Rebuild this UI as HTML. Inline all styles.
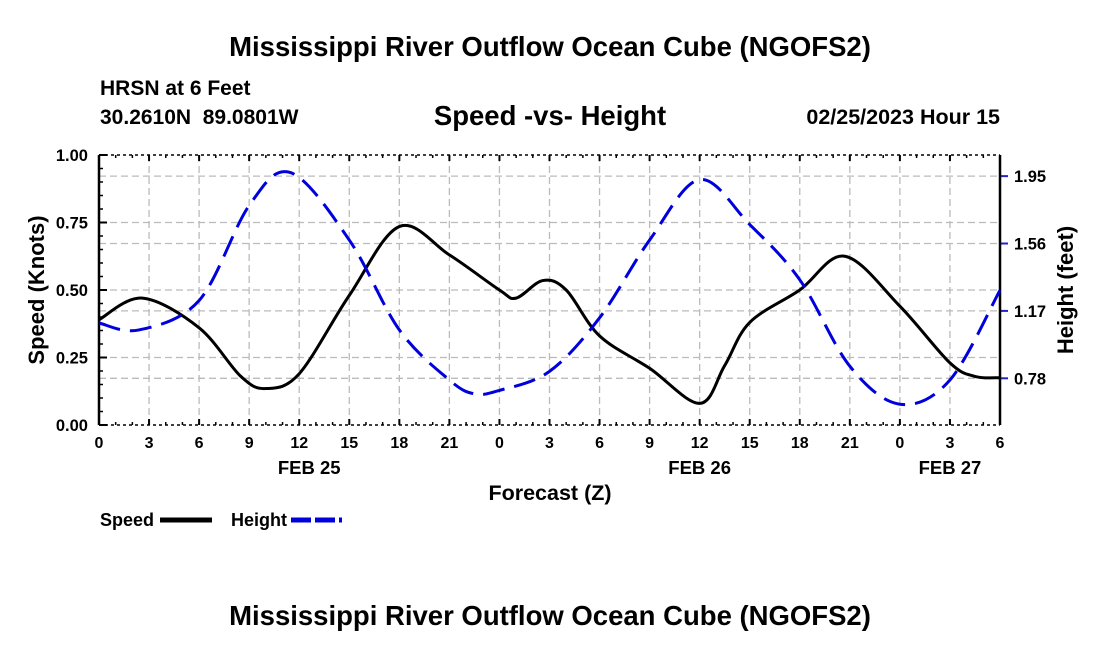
<!DOCTYPE html>
<html><head><meta charset="utf-8"><style>
body{margin:0;background:#fff;}
svg text{font-family:"Liberation Sans",Arial,sans-serif;font-weight:bold;fill:#000;}
</style></head><body>
<svg id="chart" width="1100" height="650" viewBox="0 0 1100 650" xmlns="http://www.w3.org/2000/svg">
<rect width="1100" height="650" fill="#fff"/>
<text x="550" y="56" font-size="27.5" text-anchor="middle">Mississippi River Outflow Ocean Cube (NGOFS2)</text>
<text x="100" y="95" font-size="21">HRSN at 6 Feet</text>
<text x="100" y="124" font-size="21" xml:space="preserve">30.2610N  89.0801W</text>
<text x="550" y="125" font-size="27.5" text-anchor="middle">Speed -vs- Height</text>
<text x="1000" y="124" font-size="21.5" text-anchor="end">02/25/2023 Hour 15</text>
<g id="grid"></g>
<g id="axes"></g>
<g id="series"></g>
<text transform="translate(44,290) rotate(-90)" font-size="22" text-anchor="middle">Speed (Knots)</text>
<text transform="translate(1073,290) rotate(-90)" font-size="22" text-anchor="middle">Height (feet)</text>
<text x="550" y="500" font-size="21.5" text-anchor="middle">Forecast (Z)</text>
<g>
<text x="100" y="526" font-size="18">Speed</text>
<line x1="160" y1="520" x2="212" y2="520" stroke="#000" stroke-width="5"/>
<text x="231" y="526" font-size="18">Height</text>
<line x1="291" y1="520" x2="342" y2="520" stroke="#0000dd" stroke-width="5" stroke-dasharray="20,4"/>
</g>
<text x="550" y="625" font-size="27.5" text-anchor="middle">Mississippi River Outflow Ocean Cube (NGOFS2)</text>
</svg>
<script>
const xTickLabels = ["0","3","6","9","12","15","18","21","0","3","6","9","12","15","18","21","0","3","6"];
const dateLabels = ["FEB 25","FEB 26","FEB 27"];
const dateHours = [12.6,36,51];
const speedTicks = [0,0.25,0.5,0.75,1.0];
const heightTicks = [0.78,1.17,1.56,1.95];
const speedHours = [0,2.6,6,8.5,10,12,15,18,21,24,25,26.6,28,30,33,36,37.5,39,42,44.7,48,51,52.5,54];
const speedValues = [0.39,0.47,0.36,0.18,0.135,0.19,0.48,0.735,0.63,0.50,0.47,0.535,0.50,0.33,0.21,0.08,0.22,0.38,0.50,0.625,0.44,0.23,0.18,0.175];
const heightHours = [0,2.4,6,9,11.5,15,18,21,22.5,24,27,30,33,36,39,42,45,48,51,54];
const heightValues = [1.10,1.06,1.23,1.78,1.97,1.58,1.06,0.77,0.69,0.71,0.82,1.13,1.58,1.93,1.67,1.35,0.85,0.63,0.77,1.29];

const X0=99,X1=1000,Y0=425,Y1=155;
const x = h => X0 + h/54*(X1-X0);
const yS = v => Y0 - v*(Y0-Y1);
const yH = v => 378.3 - (v-0.78)*172.8;
const NS="http://www.w3.org/2000/svg";
function mk(tag, parent, attrs){const e=document.createElementNS(NS,tag);for(const k in attrs)e.setAttribute(k,attrs[k]);parent.appendChild(e);return e;}
const grid=document.getElementById('grid'), axes=document.getElementById('axes'), series=document.getElementById('series');
const gs={stroke:"#bbb","stroke-width":1.3,"stroke-dasharray":"7,4",fill:"none"};
xTickLabels.forEach((t,i)=>{const px=x(i*3);
 if(i>0&&i<18){const l=mk('line',grid,Object.assign({x1:px,x2:px,y1:Y1,y2:Y0},gs));
 
 }
 const tk=mk('line',axes,{x1:px,x2:px,y1:Y0,y2:Y0-6,stroke:"#000","stroke-width":2});
 
 
 const tt=mk('line',axes,{x1:px,x2:px,y1:Y1,y2:Y1+6,stroke:"#000","stroke-width":2});
 
 
 const tx=mk('text',axes,{x:px,y:448,"font-size":16,"text-anchor":"middle"});tx.textContent=t;
 
 
});
for(let h=0;h<=54;h+=1){const px=x(h);
 const a=mk('line',axes,{x1:px,x2:px,y1:Y0,y2:Y0-3,stroke:"#000","stroke-width":1.5});
 
 
 const b=mk('line',axes,{x1:px,x2:px,y1:Y1,y2:Y1+3,stroke:"#000","stroke-width":1.5});
 
 }
dateLabels.forEach((d,i)=>{const t=mk('text',axes,{x:x(dateHours[i]),y:474,"font-size":18.5,"text-anchor":"middle"});t.textContent=d;
 
 });
speedTicks.forEach(v=>{const py=yS(v);
 if(v>0&&v<1){const l=mk('line',grid,Object.assign({x1:X0,x2:X1,y1:py,y2:py},gs));
 
 }
 const tk=mk('line',axes,{x1:X0,x2:X0+8,y1:py,y2:py,stroke:"#000","stroke-width":2});
 
 
 const t=mk('text',axes,{x:88,y:py+6,"font-size":16.5,"text-anchor":"end"});t.textContent=v.toFixed(2);
 
 });
for(let v=0.05;v<1;v+=0.05){const py=yS(v);
 const m=mk('line',axes,{x1:X0,x2:X0+4,y1:py,y2:py,stroke:"#000","stroke-width":1.5});
 
 }
heightTicks.forEach(v=>{const py=yH(v);
 const l=mk('line',grid,Object.assign({x1:X0,x2:X1,y1:py,y2:py},gs));
 
 
 const tk=mk('line',axes,{x1:X1,x2:X1+8,y1:py,y2:py,stroke:"#2222cc","stroke-width":2});
 
 
 const t=mk('text',axes,{x:1014,y:py+6,"font-size":16.5});t.textContent=v.toFixed(2);
 
 });
[[X0,Y1,X0,Y0],[X1,Y1,X1,Y0]].forEach(c=>{const l=mk('line',axes,{x1:c[0],y1:c[1],x2:c[2],y2:c[3],stroke:"#000","stroke-width":2.5});
 
 });
[Y1,Y0].forEach(py=>{const l=mk('line',axes,{x1:X0,x2:X1,y1:py,y2:py,stroke:"#000","stroke-width":1.5,"stroke-dasharray":"3,3"});
 
 });
function smooth(pts){let d=`M${pts[0][0]},${pts[0][1]}`;
 for(let i=0;i<pts.length-1;i++){const p0=pts[Math.max(0,i-1)],p1=pts[i],p2=pts[i+1],p3=pts[Math.min(pts.length-1,i+2)];
  d+=` C${p1[0]+(p2[0]-p0[0])/6},${p1[1]+(p2[1]-p0[1])/6} ${p2[0]-(p3[0]-p1[0])/6},${p2[1]-(p3[1]-p1[1])/6} ${p2[0]},${p2[1]}`;}
 return d;}
const sp=mk('path',series,{d:smooth(speedHours.map((h,i)=>[x(h),yS(speedValues[i])])),stroke:"#000","stroke-width":3,fill:"none"});


const hp=mk('path',series,{d:smooth(heightHours.map((h,i)=>[x(h),yH(heightValues[i])])),stroke:"#0000dd","stroke-width":3,fill:"none","stroke-dasharray":"22,10"});


</script>
</body></html>
